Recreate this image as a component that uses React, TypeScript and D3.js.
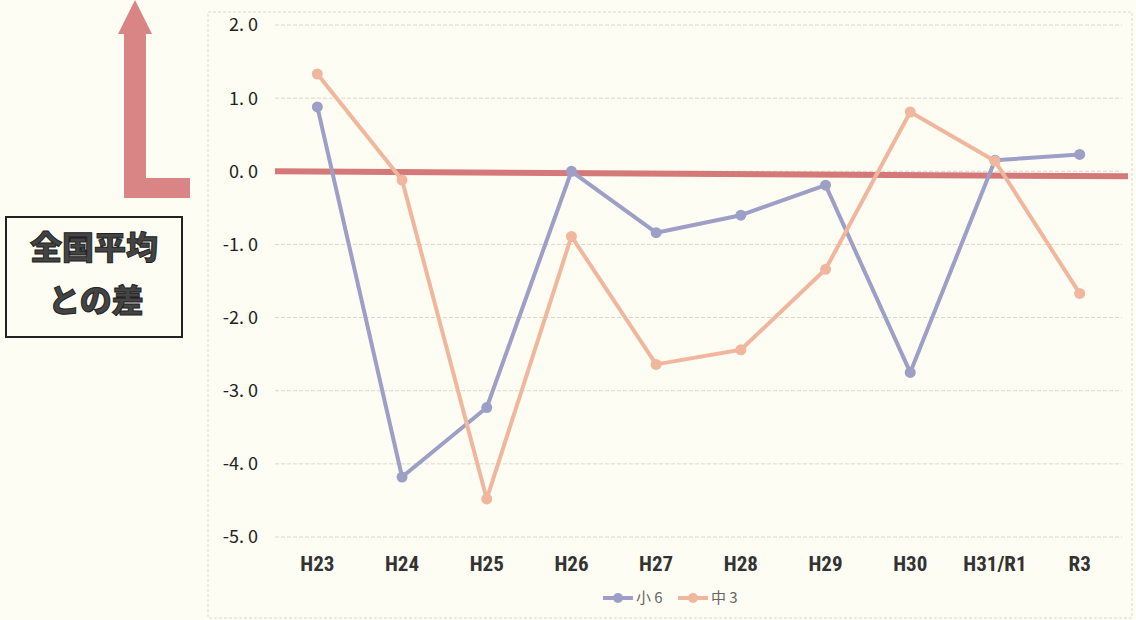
import React from "react";
import * as d3 from "d3";

// 年度ごとの全国平均との差
const categories = ["H23", "H24", "H25", "H26", "H27", "H28", "H29", "H30", "H31/R1", "R3"];
const shou6 = [0.88, -4.18, -3.23, 0.0, -0.84, -0.6, -0.19, -2.75, 0.15, 0.23];
const chuu3 = [1.33, -0.12, -4.48, -0.89, -2.64, -2.44, -1.34, 0.81, 0.14, -1.67];
const yTicks = [2, 1, 0, -1, -2, -3, -4, -5];
const seriesNames = ["小 6", "中 3"];

const W = 1136;
const H = 620;
const plot = { left: 275, right: 1122, top: 25, bottom: 537 };

const BLUE = "#9d9fc6";
const ORANGE = "#f1b79e";
const RED = "#d5787a";

export default function App() {
  const x = d3.scaleBand<string>().domain(categories).range([plot.left, plot.right]);
  const y = d3.scaleLinear().domain([-5, 2]).range([plot.bottom, plot.top]);
  const cx = (c: string) => (x(c) ?? 0) + x.bandwidth() / 2;

  const line = d3
    .line<number>()
    .x((_, i) => cx(categories[i]))
    .y((d) => y(d));

  const series = [
    { name: seriesNames[0], values: shou6, color: BLUE },
    { name: seriesNames[1], values: chuu3, color: ORANGE },
  ];

  const fmt = (v: number) => v.toFixed(1).replace(".", ". ");

  // 上向きの L 字矢印
  const arrow = [
    [135, 0],
    [152, 34],
    [146, 34],
    [146, 178],
    [190, 178],
    [190, 198],
    [124, 198],
    [124, 34],
    [118, 34],
  ];

  return (
    <svg
      width={W}
      height={H}
      style={{ position: "absolute", left: 0, top: 0, background: "#fdfdf3" }}
      fontFamily="'Liberation Sans', sans-serif"
    >
      <rect x={0} y={0} width={W} height={H} fill="#fdfdf3" />

      {/* chart frame */}
      <rect
        x={208}
        y={12}
        width={924}
        height={606}
        fill="none"
        stroke="#d8d8d0"
        strokeWidth={1}
        strokeDasharray="3 2"
      />

      {/* horizontal grid */}
      {yTicks.map((t) => (
        <line
          key={t}
          x1={plot.left}
          x2={plot.right}
          y1={y(t)}
          y2={y(t)}
          stroke="#d8d8cc"
          strokeWidth={1}
          strokeDasharray="4 2"
        />
      ))}

      {/* y tick labels */}
      {yTicks.map((t) => (
        <text
          key={"l" + t}
          x={258}
          y={y(t)}
          dy="0.36em"
          textAnchor="end"
          fontSize={18}
          fill="#222"
          fontFamily="'Noto Sans CJK JP', sans-serif"
        >
          {fmt(t)}
        </text>
      ))}

      {/* zero line */}
      <line
        x1={plot.left}
        x2={1128}
        y1={y(0)}
        y2={y(0) + 5}
        stroke={RED}
        strokeWidth={6}
      />

      {/* series */}
      {series.map((s) => (
        <g key={s.name}>
          <path d={line(s.values) ?? ""} fill="none" stroke={s.color} strokeWidth={4} strokeLinejoin="round" />
          {s.values.map((v, i) => (
            <circle key={i} cx={cx(categories[i])} cy={y(v)} r={5.5} fill={s.color} />
          ))}
        </g>
      ))}

      {/* x labels */}
      {categories.map((c) => (
        <text
          key={c}
          x={cx(c)}
          y={571}
          textAnchor="middle"
          fontSize={21}
          fontWeight="bold"
          fill="#333"
          fontFamily="'Liberation Sans Narrow', 'Roboto Condensed', sans-serif"
        >
          {c}
        </text>
      ))}

      {/* legend */}
      {series.map((s, i) => {
        const lx = 603 + i * 75;
        return (
          <g key={"lg" + s.name}>
            <line x1={lx} x2={lx + 30} y1={598} y2={598} stroke={s.color} strokeWidth={4} />
            <circle cx={lx + 15} cy={598} r={5} fill={s.color} />
            <text
              x={lx + 33}
              y={598}
              dy="0.36em"
              fontSize={15}
              fill="#666"
              fontFamily="'Noto Sans CJK JP', sans-serif"
            >
              {s.name}
            </text>
          </g>
        );
      })}

      {/* arrow */}
      <polygon points={arrow.map((p) => p.join(",")).join(" ")} fill={RED} opacity={0.9} />

      {/* label box */}
      <rect x={6} y={217} width={176} height={120} fill="#fdfdf3" stroke="#222" strokeWidth={2} />
      <text
        x={94}
        y={247}
        dy="0.36em"
        textAnchor="middle"
        fontSize={32}
        fontWeight="900"
        fill="#444"
        stroke="#222"
        strokeWidth={1}
        fontFamily="'Noto Sans CJK JP', sans-serif"
      >
        全国平均
      </text>
      <text
        x={96}
        y={300}
        dy="0.36em"
        textAnchor="middle"
        fontSize={32}
        fontWeight="900"
        fill="#444"
        stroke="#222"
        strokeWidth={1}
        fontFamily="'Noto Sans CJK JP', sans-serif"
      >
        との差
      </text>
    </svg>
  );
}
